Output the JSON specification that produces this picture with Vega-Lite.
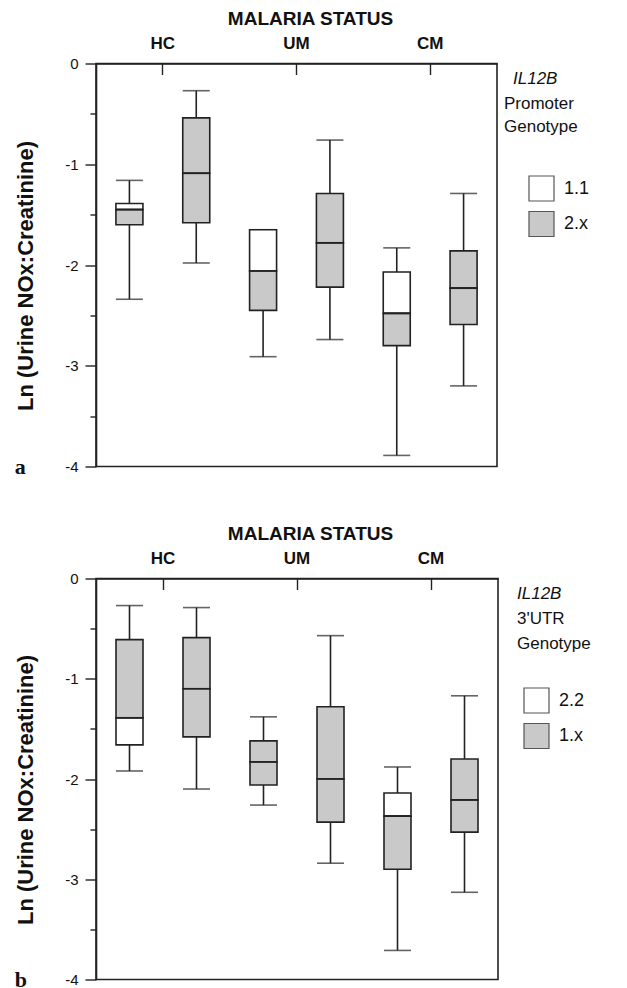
{
  "$schema": "https://vega.github.io/schema/vega-lite/v6.json",
  "padding": {"left": 13, "top": 7.5, "right": 0, "bottom": 0},
  "background": "white",
  "config": {
    "font": "Liberation Sans",
    "view": {"stroke": "#222", "strokeWidth": 1.6},
    "axis": {"domainColor": "#222", "tickColor": "#222", "labelColor": "#111", "titleColor": "#111", "domainWidth": 1.6, "tickWidth": 1.4, "grid": false},
    "axisY": {"values": [0, -0.2, -0.4, -0.6, -0.8, -1, -1.2, -1.4, -1.6, -1.8, -2, -2.2, -2.4, -2.6, -2.8, -3, -3.2, -3.4, -3.6, -3.8, -4],
      "labelExpr": "abs(datum.value - round(datum.value)) < 0.01 ? (datum.value == 0 ? '0' : '-' + format(abs(datum.value), 'd')) : ''",
      "tickSize": {"condition": {"test": "abs(datum.value - round(datum.value)) < 0.01", "value": 11}, "value": 6},
      "labelFontSize": 15, "labelPadding": 7, "labelOverlap": false,
      "titleFontSize": 22, "titleFontWeight": "bold", "titlePadding": 27},
    "legend": {"titleColor": "#111", "labelColor": "#111"}
  },
  "datasets": {
    "a": [
      {"group": "HC", "geno": "1.1", "lo": -2.34, "q1": -1.60, "med": -1.45, "q3": -1.39, "hi": -1.16, "top": "1.1", "bottom": "2.x", "gene": "IL12B"},
      {"group": "HC", "geno": "2.x", "lo": -1.98, "q1": -1.58, "med": -1.09, "q3": -0.54, "hi": -0.27, "top": "2.x", "bottom": "2.x", "gene": "IL12B"},
      {"group": "UM", "geno": "1.1", "lo": -2.91, "q1": -2.45, "med": -2.06, "q3": -1.65, "hi": -1.65, "top": "1.1", "bottom": "2.x", "gene": "IL12B"},
      {"group": "UM", "geno": "2.x", "lo": -2.74, "q1": -2.22, "med": -1.78, "q3": -1.29, "hi": -0.76, "top": "2.x", "bottom": "2.x", "gene": "IL12B"},
      {"group": "CM", "geno": "1.1", "lo": -3.89, "q1": -2.80, "med": -2.48, "q3": -2.07, "hi": -1.83, "top": "1.1", "bottom": "2.x", "gene": "IL12B"},
      {"group": "CM", "geno": "2.x", "lo": -3.20, "q1": -2.59, "med": -2.23, "q3": -1.86, "hi": -1.29, "top": "2.x", "bottom": "2.x", "gene": "IL12B"}
    ],
    "b": [
      {"group": "HC", "geno": "2.2", "lo": -1.92, "q1": -1.66, "med": -1.39, "q3": -0.61, "hi": -0.27, "top": "1.x", "bottom": "2.2", "gene": "IL12B"},
      {"group": "HC", "geno": "1.x", "lo": -2.10, "q1": -1.58, "med": -1.10, "q3": -0.59, "hi": -0.29, "top": "1.x", "bottom": "1.x", "gene": "IL12B"},
      {"group": "UM", "geno": "2.2", "lo": -2.26, "q1": -2.06, "med": -1.83, "q3": -1.62, "hi": -1.38, "top": "1.x", "bottom": "1.x", "gene": "IL12B"},
      {"group": "UM", "geno": "1.x", "lo": -2.84, "q1": -2.43, "med": -2.00, "q3": -1.28, "hi": -0.57, "top": "1.x", "bottom": "1.x", "gene": "IL12B"},
      {"group": "CM", "geno": "2.2", "lo": -3.71, "q1": -2.90, "med": -2.37, "q3": -2.14, "hi": -1.88, "top": "2.2", "bottom": "1.x", "gene": "IL12B"},
      {"group": "CM", "geno": "1.x", "lo": -3.13, "q1": -2.53, "med": -2.21, "q3": -1.80, "hi": -1.17, "top": "1.x", "bottom": "1.x", "gene": "IL12B"}
    ]
  },
  "spacing": 44,
  "resolve": {
    "scale": {"x": "independent", "y": "independent", "xOffset": "independent", "fill": "independent", "opacity": "independent"},
    "legend": {"fill": "independent", "opacity": "independent"},
    "axis": {"x": "independent", "y": "independent"}
  },
  "vconcat": [
    {
      "data": {"name": "a"},
      "width": 401,
      "height": 403,
      "title": {"text": "a", "orient": "bottom", "anchor": "start", "frame": "bounds", "font": "Liberation Serif", "fontSize": 22, "fontWeight": "bold", "offset": 0, "dy": -18, "color": "#111"},
      "encoding": {
        "x": {"field": "group", "type": "nominal", "sort": ["HC", "UM", "CM"],
          "scale": {"domain": ["HC", "UM", "CM"], "paddingInner": 0, "paddingOuter": 0},
          "axis": {"orient": "top", "title": "MALARIA STATUS", "titleFontSize": 19, "titleFontWeight": "bold", "titleX": 214, "titlePadding": 6.5,
            "labelFontSize": 17, "labelFontWeight": "bold", "labelAngle": 0, "tickSize": -11, "labelPadding": 22}},
        "xOffset": {"field": "geno", "type": "nominal", "scale": {"domain": ["1.1", "2.x"], "paddingInner": 0, "paddingOuter": 0}}
      },
      "layer": [
        {
          "mark": {"type": "rule", "color": "#222", "strokeWidth": 1.6},
          "encoding": {
            "y": {"field": "lo", "type": "quantitative", "scale": {"domain": [-4, 0], "nice": false, "zero": false}, "axis": {"orient": "left", "title": "Ln (Urine NOx:Creatinine)", "titleY": 212}},
            "y2": {"field": "q1"},
            "opacity": {"field": "gene", "type": "ordinal", "scale": {"domain": ["IL12B"], "range": [1]},
              "legend": {"title": "IL12B", "titleFontStyle": "italic", "titleFontSize": 17, "titleFontWeight": "normal", "orient": "none", "legendX": 417, "legendY": 7, "symbolOpacity": 0, "symbolStrokeWidth": 0, "symbolStrokeColor": "transparent", "symbolSize": 0, "labelExpr": "''", "labelOpacity": 0, "titlePadding": 0}}
          }
        },
        {
          "mark": {"type": "rule", "color": "#222", "strokeWidth": 1.6},
          "encoding": {"y": {"field": "q3", "type": "quantitative", "scale": {"domain": [-4, 0], "nice": false, "zero": false}, "axis": {"orient": "left", "title": "Ln (Urine NOx:Creatinine)", "titleY": 212}}, "y2": {"field": "hi"}}
        },
        {
          "mark": {"type": "tick", "color": "#222", "size": 27, "thickness": 1.6},
          "encoding": {"y": {"field": "lo", "type": "quantitative", "scale": {"domain": [-4, 0], "nice": false, "zero": false}, "axis": {"orient": "left", "title": "Ln (Urine NOx:Creatinine)", "titleY": 212}}}
        },
        {
          "mark": {"type": "tick", "color": "#222", "size": 27, "thickness": 1.6},
          "encoding": {"y": {"field": "hi", "type": "quantitative", "scale": {"domain": [-4, 0], "nice": false, "zero": false}, "axis": {"orient": "left", "title": "Ln (Urine NOx:Creatinine)", "titleY": 212}}}
        },
        {
          "mark": {"type": "bar", "width": 27, "stroke": "#222", "strokeWidth": 1.6},
          "encoding": {
            "y": {"field": "q3", "type": "quantitative", "scale": {"domain": [-4, 0], "nice": false, "zero": false}, "axis": {"orient": "left", "title": "Ln (Urine NOx:Creatinine)", "titleY": 212}},
            "y2": {"field": "med"},
            "fill": {"field": "top", "type": "nominal", "scale": {"domain": ["1.1", "2.x"], "range": ["#ffffff", "#c9c9c9"]},
              "legend": {"title": ["Promoter", "Genotype"], "orient": "none", "legendX": 408, "legendY": 32, "titleFontSize": 17, "titleFontWeight": "normal", "titleLineHeight": 23.5, "titlePadding": 39,
                "symbolType": "square", "symbolSize": 625, "symbolStrokeColor": "#555", "symbolStrokeWidth": 1.2, "symbolOffset": 24,
                "labelFontSize": 18, "labelOffset": 9, "rowPadding": 4.5}}
          }
        },
        {
          "mark": {"type": "bar", "width": 27, "stroke": "#222", "strokeWidth": 1.6},
          "encoding": {
            "y": {"field": "med", "type": "quantitative", "scale": {"domain": [-4, 0], "nice": false, "zero": false}, "axis": {"orient": "left", "title": "Ln (Urine NOx:Creatinine)", "titleY": 212}},
            "y2": {"field": "q1"},
            "fill": {"field": "bottom", "type": "nominal", "scale": {"domain": ["1.1", "2.x"], "range": ["#ffffff", "#c9c9c9"]}, "legend": null}
          }
        },
        {
          "mark": {"type": "tick", "color": "#222", "size": 27, "thickness": 1.8},
          "encoding": {"y": {"field": "med", "type": "quantitative", "scale": {"domain": [-4, 0], "nice": false, "zero": false}, "axis": {"orient": "left", "title": "Ln (Urine NOx:Creatinine)", "titleY": 212}}}
        }
      ]
    },
    {
      "data": {"name": "b"},
      "width": 402,
      "height": 401,
      "title": {"text": "b", "orient": "bottom", "anchor": "start", "frame": "bounds", "font": "Liberation Serif", "fontSize": 22, "fontWeight": "bold", "offset": 0, "dy": -18, "color": "#111"},
      "encoding": {
        "x": {"field": "group", "type": "nominal", "sort": ["HC", "UM", "CM"],
          "scale": {"domain": ["HC", "UM", "CM"], "paddingInner": 0, "paddingOuter": 0},
          "axis": {"orient": "top", "title": "MALARIA STATUS", "titleFontSize": 19, "titleFontWeight": "bold", "titleX": 214, "titlePadding": 6.5,
            "labelFontSize": 17, "labelFontWeight": "bold", "labelAngle": 0, "tickSize": -11, "labelPadding": 22}},
        "xOffset": {"field": "geno", "type": "nominal", "scale": {"domain": ["2.2", "1.x"], "paddingInner": 0, "paddingOuter": 0}}
      },
      "layer": [
        {
          "mark": {"type": "rule", "color": "#222", "strokeWidth": 1.6},
          "encoding": {
            "y": {"field": "lo", "type": "quantitative", "scale": {"domain": [-4, 0], "nice": false, "zero": false}, "axis": {"orient": "left", "title": "Ln (Urine NOx:Creatinine)", "titleY": 211}},
            "y2": {"field": "q1"},
            "opacity": {"field": "gene", "type": "ordinal", "scale": {"domain": ["IL12B"], "range": [1]},
              "legend": {"title": "IL12B", "titleFontStyle": "italic", "titleFontSize": 17, "titleFontWeight": "normal", "orient": "none", "legendX": 421, "legendY": 7, "symbolOpacity": 0, "symbolStrokeWidth": 0, "symbolStrokeColor": "transparent", "symbolSize": 0, "labelExpr": "''", "labelOpacity": 0, "titlePadding": 0}}
          }
        },
        {
          "mark": {"type": "rule", "color": "#222", "strokeWidth": 1.6},
          "encoding": {"y": {"field": "q3", "type": "quantitative", "scale": {"domain": [-4, 0], "nice": false, "zero": false}, "axis": {"orient": "left", "title": "Ln (Urine NOx:Creatinine)", "titleY": 211}}, "y2": {"field": "hi"}}
        },
        {
          "mark": {"type": "tick", "color": "#222", "size": 27, "thickness": 1.6},
          "encoding": {"y": {"field": "lo", "type": "quantitative", "scale": {"domain": [-4, 0], "nice": false, "zero": false}, "axis": {"orient": "left", "title": "Ln (Urine NOx:Creatinine)", "titleY": 211}}}
        },
        {
          "mark": {"type": "tick", "color": "#222", "size": 27, "thickness": 1.6},
          "encoding": {"y": {"field": "hi", "type": "quantitative", "scale": {"domain": [-4, 0], "nice": false, "zero": false}, "axis": {"orient": "left", "title": "Ln (Urine NOx:Creatinine)", "titleY": 211}}}
        },
        {
          "mark": {"type": "bar", "width": 27, "stroke": "#222", "strokeWidth": 1.6},
          "encoding": {
            "y": {"field": "q3", "type": "quantitative", "scale": {"domain": [-4, 0], "nice": false, "zero": false}, "axis": {"orient": "left", "title": "Ln (Urine NOx:Creatinine)", "titleY": 211}},
            "y2": {"field": "med"},
            "fill": {"field": "top", "type": "nominal", "scale": {"domain": ["2.2", "1.x"], "range": ["#ffffff", "#c9c9c9"]},
              "legend": {"title": ["3'UTR", "Genotype"], "orient": "none", "legendX": 421, "legendY": 32, "titleFontSize": 17, "titleFontWeight": "normal", "titleLineHeight": 25.5, "titlePadding": 34,
                "symbolType": "square", "symbolSize": 625, "symbolStrokeColor": "#555", "symbolStrokeWidth": 1.2, "symbolOffset": 6,
                "labelFontSize": 18, "labelOffset": 9, "rowPadding": 4.5}}
          }
        },
        {
          "mark": {"type": "bar", "width": 27, "stroke": "#222", "strokeWidth": 1.6},
          "encoding": {
            "y": {"field": "med", "type": "quantitative", "scale": {"domain": [-4, 0], "nice": false, "zero": false}, "axis": {"orient": "left", "title": "Ln (Urine NOx:Creatinine)", "titleY": 211}},
            "y2": {"field": "q1"},
            "fill": {"field": "bottom", "type": "nominal", "scale": {"domain": ["2.2", "1.x"], "range": ["#ffffff", "#c9c9c9"]}, "legend": null}
          }
        },
        {
          "mark": {"type": "tick", "color": "#222", "size": 27, "thickness": 1.8},
          "encoding": {"y": {"field": "med", "type": "quantitative", "scale": {"domain": [-4, 0], "nice": false, "zero": false}, "axis": {"orient": "left", "title": "Ln (Urine NOx:Creatinine)", "titleY": 211}}}
        }
      ]
    }
  ]
}
